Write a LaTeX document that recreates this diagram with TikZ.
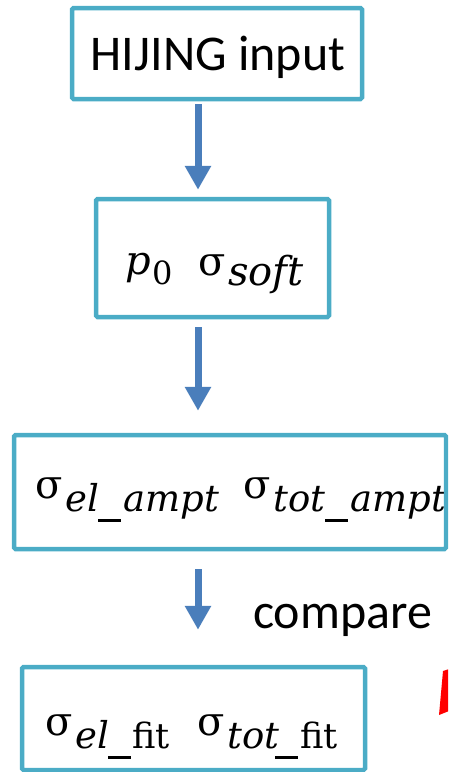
\documentclass[tikz,border=0pt]{standalone}
\usepackage{fontspec}
\setmainfont{Carlito}
\newfontfamily\mserif{DejaVu Serif}
\usetikzlibrary{arrows.meta}
\definecolor{boxteal}{HTML}{4BACC6}
\definecolor{flowblue}{HTML}{4A7EBB}
\definecolor{markred}{HTML}{FF0000}
% pieces of the formulas, each in a box of fixed width
\newcommand\greeksig[1]{\makebox[#1pt][l]{\mserif\fontsize{40}{48}\selectfont σ}}
\newcommand\lowsub[3]{\makebox[#2pt][l]{\raisebox{-#1pt}{\mserif\fontsize{37}{44}\selectfont\itshape #3}}}
\newcommand\lowrm[3]{\makebox[#2pt][l]{\raisebox{-#1pt}{\mserif\fontsize{35}{42}\selectfont #3}}}
\newcommand\lowbar[1]{\makebox[#1pt][l]{\rule[-24pt]{23pt}{3.5pt}}}
\begin{document}
\begin{tikzpicture}[x=1pt,y=-1pt,
  stage/.style={draw=boxteal, line width=4.5pt, rounded corners=1.5pt, inner sep=0pt},
  flow/.style={draw=flowblue, line width=7pt, -{Triangle[width=25pt,length=24pt]}},
  txt/.style={inner sep=0pt, anchor=base west},
  big/.style={font=\fontsize{50}{60}\selectfont}]
\useasboundingbox (0,0) rectangle (448,772);
\clip (0,0) rectangle (448,772);

% texts
\node[big, inner sep=0pt, anchor=base] (t1) at (218,70) {HIJING input};
\node[txt] (t2) at (125,274) {\makebox[27pt][l]{\mserif\fontsize{40}{48}\selectfont\itshape p}%
  \makebox[46pt][l]{\raisebox{-10pt}{\mserif\fontsize{32}{38}\selectfont 0}}%
  \makebox[30pt][l]{\raisebox{-1pt}{\mserif\fontsize{40}{48}\selectfont σ}}%
  \raisebox{-11pt}{\mserif\fontsize{40}{48}\selectfont\itshape soft}};
\node[txt] (t3) at (35,498) {\greeksig{30}\lowsub{13}{33}{el}\lowbar{25}\lowsub{13}{120}{ampt}%
  \greeksig{30}\lowsub{13}{52}{tot}\lowbar{25}\lowsub{13}{100}{ampt}};
\node[txt] (t4) at (45,735) {\greeksig{30}\lowsub{13}{33}{el}\lowbar{24}\lowrm{13}{65}{fit}%
  \greeksig{30}\lowsub{13}{48}{tot}\lowbar{25}\lowrm{13}{40}{fit}};
\node[big, txt] (cmp) at (253,628) {compare};

% boxes
\node[stage, minimum width=290pt, minimum height=91pt] (box1) at (217,53.5) {};
\node[stage, minimum width=233pt, minimum height=118pt] (box2) at (212.5,258) {};
\node[stage, minimum width=432pt, minimum height=114pt] (box3) at (230,492) {};
\node[stage, minimum width=343pt, minimum height=103pt] (box4) at (193.5,718.5) {};

% flow arrows
\coordinate (axis) at (198,0);
\draw[flow, shorten <=3pt, shorten >=7pt] (box1.south -| axis) -- (box2.north -| axis);
\draw[flow, shorten <=8pt, shorten >=22pt] (box2.south -| axis) -- (box3.north -| axis);
\draw[flow, shorten <=18pt, shorten >=35pt] (box3.south -| axis) -- (box4.north -| axis);

% red marker at the edge
\fill[markred] (443,671) -- (449,669) -- (449,711) -- (439,715) -- cycle;
\end{tikzpicture}
\end{document}
